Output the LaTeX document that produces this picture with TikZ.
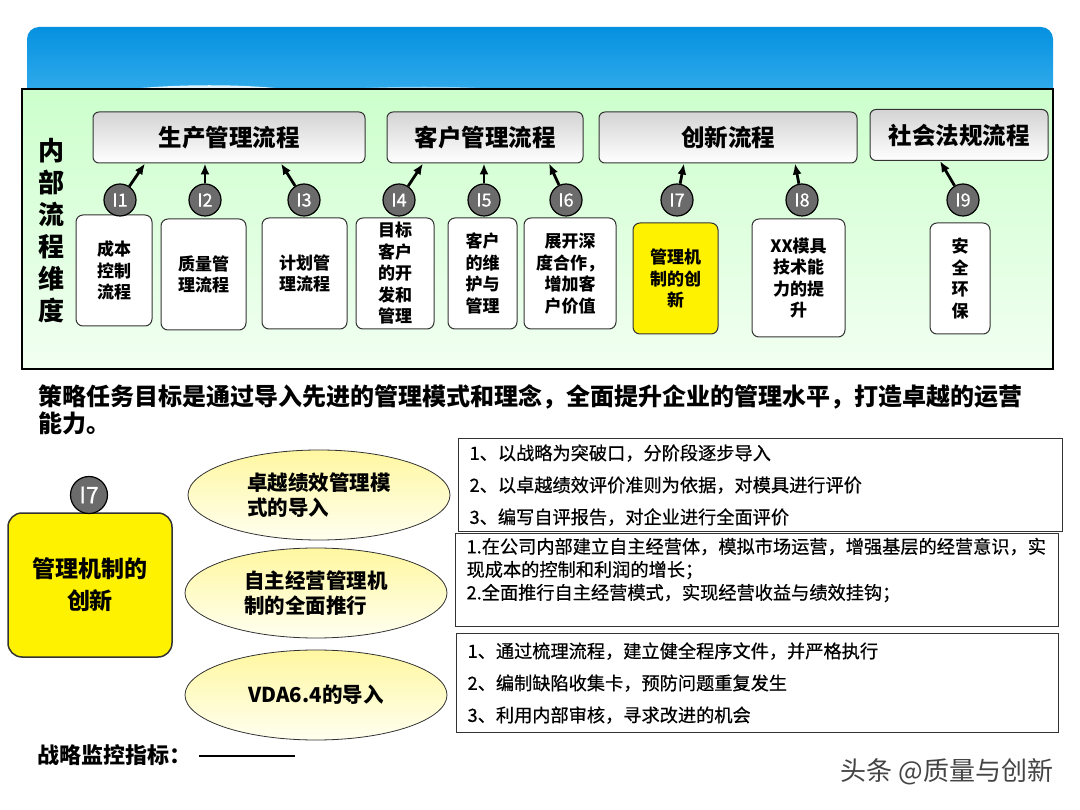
\documentclass[tikz,border=0pt]{standalone}
\usepackage{fontspec}
\setmainfont{Noto Sans CJK SC}
\newfontfamily\medfont{Noto Sans CJK SC}[FakeBold=0.6]
\usetikzlibrary{arrows.meta,shapes.geometric}

\definecolor{hdrtop}{HTML}{0591E0}
\definecolor{hdrbot}{HTML}{37AEEC}
\definecolor{pnltop}{HTML}{CCFFCC}
\definecolor{pnlbot}{HTML}{F2FFF2}
\definecolor{grptop}{HTML}{D4D4D4}
\definecolor{cirfill}{HTML}{6B6B6B}
\definecolor{edge}{HTML}{333333}
\definecolor{elltop}{HTML}{FFF7A0}
\definecolor{ellbot}{HTML}{FFFFF0}
\definecolor{wmgray}{HTML}{444444}

\newcommand{\fs}[2]{\fontsize{#1}{#2}\selectfont}

\begin{document}
\begin{tikzpicture}[x=1pt, y=-1pt,
    every node/.style={inner sep=0pt},
    grp/.style={rectangle, rounded corners=6pt, draw=edge, line width=1pt,
                top color=grptop, bottom color=white, minimum height=51pt,
                font=\bfseries\fs{23.5}{26}},
    sub/.style={rectangle, rounded corners=7pt, draw=edge, line width=1pt,
                fill=white, align=center, font=\bfseries\fs{17}{21.5}},
    idc/.style={circle, draw=black, line width=1.2pt, fill=cirfill,
                minimum size=32pt, text=white, font=\medfont\fs{18}{18}},
    e/.style={-{Latex[length=11pt,width=9pt]}, line width=2.8pt},
    opt/.style={ellipse, draw=edge, line width=0.8pt, top color=elltop,
                bottom color=ellbot, minimum width=262pt, minimum height=90pt,
                align=left, font=\bfseries\fs{20.5}{25}},
    lst/.style={rectangle, draw=edge, line width=1.2pt, fill=white,
                align=left, anchor=north west, inner xsep=11pt,
                font=\medfont\fs{18.2}{23}},
  ]
  \useasboundingbox (0,0) rectangle (1080,810);

  % header band and panel
  \shade[top color=hdrtop, bottom color=hdrbot, rounded corners=12pt]
    (27,27) rectangle (1053,100);
  \fill[white, opacity=0.85] (130,89) .. controls (180,84) and (240,84) .. (285,89) -- cycle;
  \fill[white, opacity=0.5] (345,89) .. controls (400,86) and (450,86) .. (498,89) -- cycle;
  \draw[line width=2pt, top color=pnltop, bottom color=pnlbot] (22,89) rectangle (1053,369);

  \node[font=\bfseries\fs{26}{32}, align=center] (dim) at (51,231) {内\\部\\流\\程\\维\\度};

  \node[grp, minimum width=272pt] (prod) at (229,137.5) {生产管理流程};
  \node[grp, minimum width=196pt] (cust) at (485,137.5) {客户管理流程};
  \node[grp, minimum width=258pt] (innov) at (728,137.5) {创新流程};
  \node[grp, minimum width=178pt] (law) at (959,135) {社会法规流程};

  \node[sub, minimum width=76pt, minimum height=111pt] (b1) at (114,270.5) {成本\\控制\\流程};
  \node[sub, minimum width=85pt, minimum height=111pt] (b2) at (203.5,274.5) {质量管\\理流程};
  \node[sub, minimum width=85pt, minimum height=111pt] (b3) at (304.5,273.5) {计划管\\理流程};
  \node[sub, minimum width=78pt, minimum height=111pt] (b4) at (395,273.5) {目标\\客户\\的开\\发和\\管理};
  \node[sub, minimum width=69pt, minimum height=111pt] (b5) at (482.5,273.5) {客户\\的维\\护与\\管理};
  \node[sub, minimum width=92pt, minimum height=111pt] (b6) at (570,273.5) {展开深\\度合作，\\增加客\\户价值};
  \node[sub, fill=yellow, minimum width=85pt, minimum height=111pt] (b7) at (675.5,278.5) {管理机\\制的创\\新};
  \node[sub, minimum width=93pt, minimum height=118pt] (b8) at (798.5,278) {XX模具\\技术能\\力的提\\升};
  \node[sub, minimum width=60pt, minimum height=111pt] (b9) at (960,278.5) {安\\全\\环\\保};

  \node[idc] (i1) at (120,200) {I1};
  \node[idc] (i2) at (205,200) {I2};
  \node[idc] (i3) at (304,200) {I3};
  \node[idc] (i4) at (399,200) {I4};
  \node[idc] (i5) at (484,200) {I5};
  \node[idc] (i6) at (566,200) {I6};
  \node[idc] (i7) at (677,200) {I7};
  \node[idc] (i8) at (802,200) {I8};
  \node[idc] (i9) at (963,200) {I9};

  \draw[e] (i1) -- ([xshift=-84pt]prod.south);
  \draw[e] (i2) -- ([xshift=-24pt]prod.south);
  \draw[e] (i3) -- ([xshift=52pt]prod.south);
  \draw[e] (i4) -- ([xshift=-62pt]cust.south);
  \draw[e] (i5) -- ([xshift=-1pt]cust.south);
  \draw[e] (i6) -- ([xshift=64pt]cust.south);
  \draw[e] (i7) -- ([xshift=-44pt]innov.south);
  \draw[e] (i8) -- ([xshift=67pt]innov.south);
  \draw[e] (i9) -- ([xshift=-19pt]law.south);

  % strategy part
  \node[font=\bfseries\fs{24}{27}, anchor=west, align=left] (goal) at (38,410)
    {策略任务目标是通过导入先进的管理模式和理念，全面提升企业的管理水平，打造卓越的运营\\能力。};

  \node[sub, fill=yellow, line width=1.5pt, rounded corners=14pt, minimum width=164pt,
        minimum height=144pt, font=\bfseries\fs{23}{32}] (mech) at (90,585) {管理机制的\\创新};
  \node[idc, minimum size=37pt, font=\medfont\fs{23}{23}] (i7b) at (89,495) {I7};

  \node[opt] (o1) at (319,495) {卓越绩效管理模\\式的导入};
  \node[opt] (o2) at (316,593) {自主经营管理机\\制的全面推行};
  \node[opt] (o3) at (316,695) {VDA6.4的导入};

  \node[lst, text width=582pt, minimum height=93pt] (l1) at (458,438)
    {1、以战略为突破口，分阶段逐步导入\\[9pt]2、以卓越绩效评价准则为依据，对模具进行评价\\[9pt]3、编写自评报告，对企业进行全面评价};
  \node[lst, text width=581pt, minimum height=93pt] (l2) at (455,533)
    {1.在公司内部建立自主经营体，模拟市场运营，增强基层的经营意识，实\\现成本的控制和利润的增长；\\2.全面推行自主经营模式，实现经营收益与绩效挂钩；\\\mbox{}};
  \node[lst, text width=580pt, minimum height=99pt] (l3) at (456,633)
    {1、通过梳理流程，建立健全程序文件，并严格执行\\[9pt]2、编制缺陷收集卡，预防问题重复发生\\[9pt]3、利用内部审核，寻求改进的机会};

  \node[font=\bfseries\fs{22}{25}, anchor=west] (kpi) at (37,755)
    {战略监控指标：\hspace{8pt}\rule[0.3em]{96pt}{1.6pt}};

  \node[text=wmgray, font=\fs{26}{26}] (wm) at (947,772) {头条 @质量与创新};
\end{tikzpicture}
\end{document}
